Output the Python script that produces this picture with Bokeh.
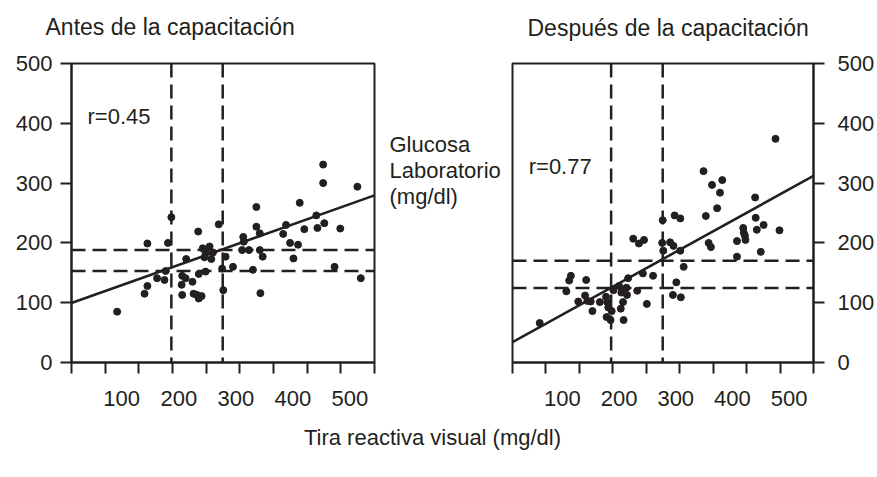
from bokeh.plotting import figure
from bokeh.models import Range1d, FixedTicker, Span, Label, ColumnDataSource
from bokeh.layouts import row, column
from bokeh.embed import file_html
from bokeh.resources import INLINE

FONT = "Liberation Sans"
INK = "#231f20"

# ---------------- data ----------------
title_before = "Antes de la capacitación"
title_after = "Después de la capacitación"
y_label_lines = ["Glucosa", "Laboratorio", "(mg/dl)"]
x_label = "Tira reactiva visual (mg/dl)"

x_tick_labels = [100, 200, 300, 400, 500]
y_tick_labels = [0, 100, 200, 300, 400, 500]
x_tick_marks = [12, 71, 130, 189, 248, 307, 366, 425, 484, 543]

before_x = [92, 140, 145, 145, 162, 175, 177, 181, 187, 206, 205, 206, 212, 213,
            224, 226, 232, 235, 240, 235, 234, 247, 242, 254, 247, 260, 245, 257,
            270, 276, 278, 282, 295, 311, 313, 314, 323, 330, 336, 336, 342, 342,
            347, 343, 383, 388, 395, 409, 401, 412, 420, 441, 443, 453, 453, 455,
            473, 483, 513, 519]
before_y = [85, 115, 128, 199, 141, 138, 153, 200, 243, 145, 130, 113, 141, 173,
            135, 115, 113, 107, 111, 148, 219, 152, 191, 194, 184, 184, 176, 173,
            231, 157, 121, 177, 160, 188, 210, 202, 188, 155, 260, 227, 216, 188,
            177, 116, 215, 230, 200, 197, 174, 267, 223, 246, 225, 331, 300, 233,
            160, 224, 294, 141]

after_x = [60, 107, 112, 115, 142, 128, 140, 144, 150, 153, 166, 177, 179, 181,
           187, 178, 185, 208, 190, 200, 204, 213, 214, 207, 203, 216, 232, 242,
           260, 249, 225, 235, 244, 276, 277, 278, 290, 296, 298, 308, 308, 314,
           301, 295, 309, 349, 364, 382, 378, 373, 353, 358, 362, 408, 408, 419,
           420, 422, 423, 440, 441, 443, 455, 450, 483, 476]
after_y = [66, 119, 137, 145, 138, 102, 112, 103, 102, 86, 101, 110, 101, 92,
           86, 76, 71, 71, 121, 128, 117, 125, 113, 101, 90, 141, 120, 149,
           145, 98, 207, 199, 205, 200, 238, 187, 201, 195, 246, 241, 187, 160,
           134, 113, 109, 320, 297, 305, 284, 258, 245, 200, 193, 203, 177, 225,
           217, 212, 205, 276, 242, 222, 230, 185, 221, 374]

r_before = "r=0.45"
r_after = "r=0.77"
fit_before = [95.4, 0.339]   # intercept, slope
fit_after = [27.7, 0.524]
cut_x_before = [187, 277]
cut_y_before = [153, 188]
cut_x_after = [186, 277]
cut_y_after = [124.5, 170]

X_LO, X_HI = 12, 543
Y_LO, Y_HI = 0, 500

PAGE_W = 877
STRIP_H = 50            # title strip
PANEL_H = 370           # panel row
TOP, BOTTOM = 13, 58    # panel borders -> frame at page y 63..362
FOOT_H = 57


def style_axes(p, right_side):
    for ax in p.xaxis:
        ax.ticker = FixedTicker(ticks=x_tick_labels, minor_ticks=x_tick_marks)
        ax.major_tick_out = 0
        ax.major_tick_in = 0
        ax.minor_tick_out = 11
        ax.minor_tick_in = 0
        ax.minor_tick_line_color = INK
        ax.minor_tick_line_width = 2
        ax.major_label_standoff = 17
    for ax in p.yaxis:
        ax.ticker = FixedTicker(ticks=y_tick_labels, minor_ticks=[])
        ax.major_tick_out = 11
        ax.major_tick_in = 0
        ax.major_tick_line_color = INK
        ax.major_tick_line_width = 2
        ax.minor_tick_out = 0
        ax.minor_tick_in = 0
        ax.major_label_standoff = 13 if right_side else 8
    for ax in p.axis:
        ax.axis_line_color = INK
        ax.axis_line_width = 2
        ax.major_label_text_font = FONT
        ax.major_label_text_font_size = "22px"
        ax.major_label_text_color = INK


def make_panel(xs, ys, fit, cut_x, cut_y, r_text, r_xy, side, width, bl, br):
    p = figure(width=width, height=PANEL_H, x_range=Range1d(X_LO, X_HI),
               y_range=Range1d(Y_LO, Y_HI), output_backend="svg", title=None,
               toolbar_location=None, y_axis_location=side,
               min_border_left=bl, min_border_right=br,
               min_border_top=TOP, min_border_bottom=BOTTOM)
    p.grid.visible = False
    p.outline_line_color = INK
    p.outline_line_width = 2
    p.outline_line_alpha = 1
    p.background_fill_color = "white"
    p.border_fill_color = "white"
    style_axes(p, side == "right")
    for cx in cut_x:
        p.add_layout(Span(location=cx, dimension="height", line_color=INK,
                          line_width=2.5, line_dash="14 7"))
    for cy in cut_y:
        p.add_layout(Span(location=cy, dimension="width", line_color=INK,
                          line_width=2.5, line_dash="14 7"))
    a, b = fit
    p.line([X_LO, X_HI], [a + b * X_LO, a + b * X_HI], line_color=INK, line_width=2.6)
    src = ColumnDataSource(dict(x=xs, y=ys))
    p.scatter("x", "y", source=src, size=7, color=INK)
    p.add_layout(Label(x=r_xy[0], y=r_xy[1], text=r_text, text_font=FONT,
                       text_font_size="22px", text_color=INK,
                       text_baseline="middle", text_align="left"))
    return p


def blank(width, height, y_top, y_bottom):
    q = figure(width=width, height=height, x_range=Range1d(0, width),
               y_range=Range1d(y_bottom, y_top), output_backend="svg", title=None,
               toolbar_location=None, x_axis_location=None, y_axis_location=None,
               min_border_left=0, min_border_right=0,
               min_border_top=0, min_border_bottom=0)
    q.grid.visible = False
    q.outline_line_color = None
    q.background_fill_color = "white"
    q.border_fill_color = "white"
    return q


def text_label(fig, x, y, text, size, align):
    fig.add_layout(Label(x=x, y=y, text=text, text_font=FONT, text_font_size=size,
                         text_color=INK, text_baseline="middle", text_align=align))


# title strip (page coordinates)
pt = blank(PAGE_W, STRIP_H, 0, STRIP_H)
text_label(pt, 45, 26, title_before, "23px", "left")
text_label(pt, 527, 27, title_after, "23px", "left")

p1 = make_panel(before_x, before_y, fit_before, cut_x_before, cut_y_before,
                r_before, (40, 412), "left", 380, 71, 6)

# middle strip: its frame is aligned with the panels' frames (page y 63..362)
pm = blank(125, PANEL_H, 63, 362)
for i, line in enumerate(y_label_lines):
    text_label(pm, 9, 144 + 26 * i, line, "22px", "left")

p2 = make_panel(after_x, after_y, fit_after, cut_x_after, cut_y_after,
                r_after, (40.6, 328), "right", 372, 7, 62)

p3 = blank(PAGE_W, FOOT_H, 0, FOOT_H)
text_label(p3, 432, 17, x_label, "22px", "center")

layout = column(pt, row(p1, pm, p2), p3)
open("out.html", "w").write(file_html(layout, INLINE))
